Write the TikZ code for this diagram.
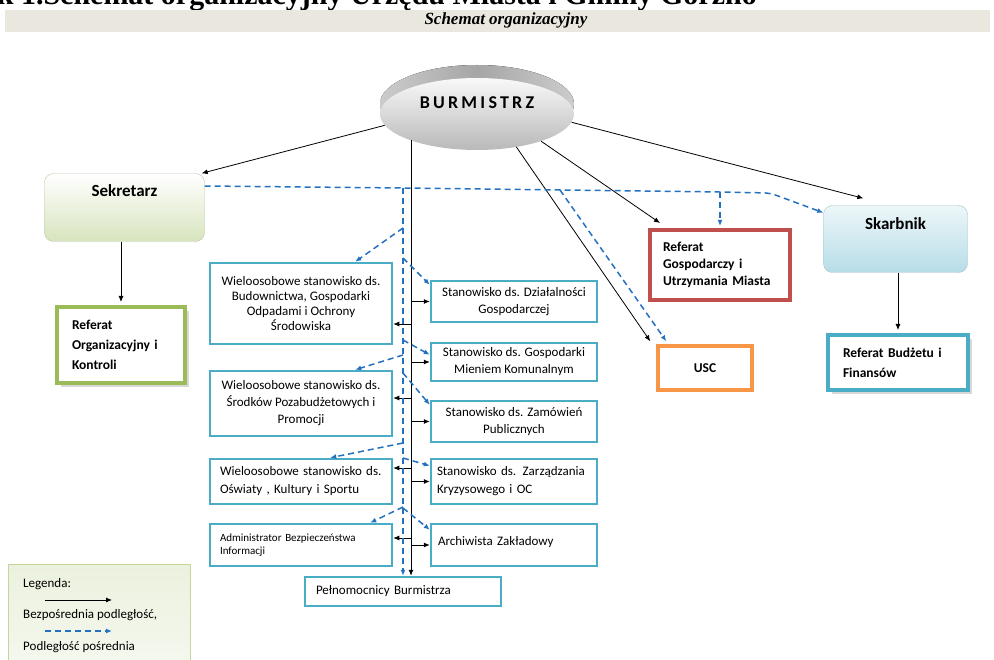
\documentclass[tikz,border=0pt]{standalone}
\usepackage{fontspec}
\setmainfont{Carlito}
\newfontfamily\serifttl{Liberation Serif}
\usetikzlibrary{arrows.meta,shapes.geometric,shadows}
\definecolor{tealc}{RGB}{75,172,198}
\definecolor{redc}{RGB}{192,80,77}
\definecolor{orgc}{RGB}{247,150,70}
\definecolor{grnc}{RGB}{155,187,89}
\definecolor{dshc}{RGB}{36,113,192}
\definecolor{bandc}{RGB}{234,232,222}
\definecolor{sekc}{RGB}{215,228,189}
\definecolor{skbc}{RGB}{183,221,232}
\definecolor{legc}{RGB}{235,241,222}

\begin{document}
\begin{tikzpicture}[x=1pt, y=-1pt, >={Latex[length=6pt,width=5pt]},
	every node/.style={inner sep=2pt},
	txt/.style={font=\fontsize{13}{15}\selectfont},
	tbox/.style={draw=tealc, line width=2.5pt, fill=white, txt},
	dbox/.style={draw=#1, line width=4pt, fill=white, align=left, font=\bfseries\fontsize{13.5}{17}\selectfont},
	shd/.style={drop shadow={shadow xshift=4pt, shadow yshift=-4pt, fill=gray!60}},
	dsh/.style={dshc, line width=1.5pt, dash pattern=on 6pt off 4pt},
	sol/.style={black, line width=0.8pt}]
	\useasboundingbox (0,0) rectangle (994,660);
	\node[anchor=base east, inner sep=0, font=\serifttl\bfseries\fontsize{30}{34}\selectfont] (tit) at (757,5) {Rysunek 1.Schemat organizacyjny Urzędu Miasta i Gminy Gorzno};
	\fill[bandc] (5,10) rectangle (990,32);
	\node[font=\serifttl\bfseries\itshape\fontsize{17}{20}\selectfont] (hdr) at (506,20) {Schemat organizacyjny};

	\fill[left color=gray!40, right color=gray!40, middle color=gray!70] (477,104) ellipse [x radius=97, y radius=39];
	\node[ellipse, minimum width=194pt, minimum height=72pt, inner sep=0, top color=gray!5, bottom color=gray!55, text depth=22pt, font=\bfseries\fontsize{18}{20}\selectfont\addfontfeatures{LetterSpace=18}] (bur) at (477,114) {BURMISTRZ};

	\node[draw=sekc!70!gray, rounded corners=9pt, top color=white, bottom color=sekc, minimum width=160pt, minimum height=68pt, text depth=33pt, font=\bfseries\fontsize{17}{20}\selectfont] (sek) at (124.5,207.5) {Sekretarz};
	\node[draw=skbc!70!gray, rounded corners=9pt, top color=skbc!25, bottom color=skbc, minimum width=144pt, minimum height=67pt, text depth=30pt, font=\bfseries\fontsize{17}{20}\selectfont] (skb) at (895.5,239) {Skarbnik};

	\node[dbox=redc, minimum width=140pt, minimum height=70pt, text width=114pt] (rog) at (720,265) {Referat\\Gospodarczy i\\Utrzymania Miasta};
	\node[dbox=orgc, line width=3.5pt, minimum width=94pt, minimum height=44pt] (usc) at (705,368) {USC};
	\node[dbox=tealc, shd, minimum width=140pt, minimum height=55pt, text width=110pt, font=\bfseries\fontsize{13.5}{20}\selectfont] (rbf) at (898,362.5) {Referat Budżetu i\\Finansów};
	\node[dbox=grnc, shd, minimum width=128pt, minimum height=76pt, text width=98pt, font=\bfseries\fontsize{13.5}{20}\selectfont] (rok) at (121,345) {Referat\\Organizacyjny i\\Kontroli};
	\foreach \n/\c in {rog/redc, usc/orgc, rbf/tealc, rok/grnc}
		\draw[\c, line width=0.8pt] ([shift={(3.5pt,-3.5pt)}]\n.north west) rectangle ([shift={(-3.5pt,3.5pt)}]\n.south east);

	\node[tbox, minimum width=182pt, minimum height=81pt, align=center] (bud) at (301,303.5) {Wieloosobowe stanowisko ds.\\Budownictwa, Gospodarki\\Odpadami i Ochrony\\Środowiska};
	\node[tbox, minimum width=182pt, minimum height=65pt, align=center, font=\fontsize{13}{17}\selectfont] (sro) at (301,403.5) {Wieloosobowe stanowisko ds.\\Środków Pozabudżetowych i\\Promocji};
	\node[tbox, minimum width=182pt, minimum height=45pt, text width=162pt, align=left, font=\fontsize{13}{18}\selectfont] (osw) at (301,481.5) {Wieloosobowe stanowisko ds.\\Oświaty , Kultury i Sportu};
	\node[tbox, minimum width=182pt, minimum height=42pt, text width=162pt, align=left, font=\fontsize{11}{12.5}\selectfont] (adm) at (301,545) {Administrator Bezpieczeństwa\\Informacji};
	\node[tbox, minimum width=166pt, minimum height=41pt, align=center, font=\fontsize{13}{17}\selectfont] (dzi) at (514,301.5) {Stanowisko ds. Działalności\\Gospodarczej};
	\node[tbox, minimum width=166pt, minimum height=38pt, align=center, font=\fontsize{13}{17}\selectfont] (gmk) at (514,362) {Stanowisko ds. Gospodarki\\Mieniem Komunalnym};
	\node[tbox, minimum width=166pt, minimum height=41pt, align=center, font=\fontsize{13}{17}\selectfont] (zam) at (514,421.5) {Stanowisko ds. Zamówień\\Publicznych};
	\node[tbox, minimum width=166pt, minimum height=45pt, text width=154pt, align=left, font=\fontsize{13}{18}\selectfont] (zar) at (514,481.5) {Stanowisko ds. Zarządzania\\Kryzysowego i OC};
	\node[tbox, minimum width=166pt, minimum height=42pt, text width=152pt, align=left, text depth=8pt] (arc) at (514,545) {Archiwista Zakładowy};
	\node[tbox, minimum width=196pt, minimum height=29pt, text width=174pt, align=left] (peln) at (403,591.5) {Pełnomocnicy Burmistrza};

	\node[draw=grnc!60, top color=legc, bottom color=legc!50, minimum width=182pt, minimum height=106pt] (leg) at (99,617) {};
	\node[txt, anchor=west] (l1) at (21,584) {Legenda:};
	\coordinate (la) at (45,600);
	\coordinate (lb) at (112,600);
	\node[txt, anchor=west] (l2) at (21,615) {Bezpośrednia podległość,};
	\coordinate (lc) at (45,631);
	\coordinate (ld) at (112,631);
	\node[txt, anchor=west] (l3) at (21,647) {Podległość pośrednia};
	\draw[sol,->] (la) -- (lb);
	\draw[dsh,->] (lc) -- (ld);

	\coordinate (vs) at (411,140);
	\coordinate (dj) at (403,188);
	\coordinate (du) at (560,190);
	\coordinate (dk) at (720,192);
	\coordinate (ds) at (770,193);

	\draw[sol,->] (bur.187) -- ([xshift=-3pt]sek.north east);
	\draw[sol,->] (bur.355) -- ([xshift=40pt,yshift=7pt]skb.north west);
	\draw[sol,->] (bur.337) -- ([xshift=12pt,yshift=5pt]rog.north west);
	\draw[sol,->] (bur.320) -- ([xshift=-6pt,yshift=3pt]usc.north west);
	\draw[sol,->] (vs) -- (peln.north -| vs);
	\draw[sol,->] (sek.south -| rok.north) -- ([yshift=3pt]rok.north);
	\draw[sol,->] (skb.south -| rbf.north) -- ([yshift=3pt]rbf.north);
	\foreach \b in {dzi,gmk,zam,zar,arc}
		\draw[sol,->] (vs |- \b.west) -- (\b.west);
	\foreach \b/\y in {bud/324,sro/398,osw/468,adm/538}
		\draw[sol,->] (vs |- 0,\y) -- (\b.east |- 0,\y);

	\draw[dsh,->,rounded corners=6pt] (sek.15) -- (dj) -- (dk) -- (ds) -- (skb.160);
	\draw[dsh,->] (dk) -- ([yshift=2pt]rog.north);
	\draw[dsh,->] (du) -- ([xshift=10pt,yshift=3pt]usc.north west);
	\draw[dsh,->] (dj) -- (peln.north);
	\draw[dsh,->] (dj |- 0,228) -- ([xshift=-38pt]bud.north east);
	\draw[dsh,->] (dj |- 0,258) -- ([yshift=-5pt]dzi.north west);
	\draw[dsh,->] (dj |- 0,340) -- ([yshift=-13pt]gmk.north west);
	\draw[dsh,->] (dj |- 0,355) -- ([xshift=-38pt]sro.north east);
	\draw[dsh,->] (dj |- 0,373) -- ([yshift=-5pt]zam.north west);
	\draw[dsh,->] (dj |- 0,443) -- ([xshift=-63pt]osw.north east);
	\draw[dsh,->] (dj |- 0,458) -- ([yshift=-8pt]zar.north west);
	\draw[dsh,->] (dj |- 0,507) -- ([xshift=-23pt]adm.north east);
	\draw[dsh,->] (dj |- 0,508) -- ([yshift=-7pt]arc.north west);
\end{tikzpicture}
\end{document}
